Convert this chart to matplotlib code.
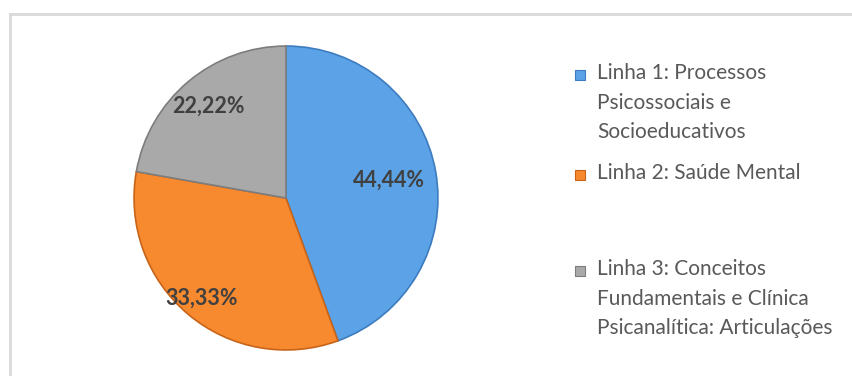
import numpy as np
import matplotlib.pyplot as plt
from matplotlib.patches import Rectangle
from matplotlib.lines import Line2D

plt.rcParams['font.family'] = ['Lato', 'DejaVu Sans']

# distribution of research lines
categories = ["Linha 1: Processos\nPsicossociais e\nSocioeducativos",
              "Linha 2: Saúde Mental",
              "Linha 3: Conceitos\nFundamentais e Clínica\nPsicanalítica: Articulações"]
shares = [44.44, 33.33, 22.22]
pct_labels = ["44,44%", "33,33%", "22,22%"]

colors = ["#5ba3e6", "#f7892f", "#a9a9a9"]
edges = ["#3d7cbf", "#c86418", "#7d7d7d"]
label_r = [0.69, 0.86, 0.79]

W, H = 853, 376
fig = plt.figure(figsize=(W / 100, H / 100), dpi=100)
fig.patch.set_facecolor("white")

# chart frame (top and left lines only)
fig.add_artist(Line2D([10 / W, 1], [1 - 14 / H, 1 - 14 / H], color="#d9d9d9", lw=2))
fig.add_artist(Line2D([10 / W, 10 / W], [0, 1 - 14 / H], color="#d9d9d9", lw=2))

cx, cy, r = 286, 198, 155
ax = fig.add_axes([(cx - r) / W, (H - cy - r) / H, 2 * r / W, 2 * r / H])
wedges, _ = ax.pie(shares, colors=colors, startangle=90, counterclock=False,
                   radius=1.0, wedgeprops=dict(linewidth=1.2))
for w, ec in zip(wedges, edges):
    w.set_edgecolor(ec)
ax.set_xlim(-1.02, 1.02)
ax.set_ylim(-1.02, 1.02)

for w, txt, lr in zip(wedges, pct_labels, label_r):
    ang = np.deg2rad((w.theta1 + w.theta2) / 2)
    ax.text(lr * np.cos(ang), lr * np.sin(ang), txt, ha="center", va="center",
            fontsize=15.5, fontweight="bold", color="#404040")

# legend
leg_x = 597
leg_tops = [63, 163, 259]
for lab, col, ec, top in zip(categories, colors, edges, leg_tops):
    fig.add_artist(Rectangle(((leg_x - 22) / W, 1 - (top + 17) / H), 10 / W, 10 / H,
                             facecolor=col, edgecolor=ec, lw=0.8,
                             transform=fig.transFigure))
    fig.text(leg_x / W, 1 - top / H, lab, ha="left", va="top", fontsize=15,
             color="#595959", linespacing=1.6)

fig.savefig("out.png", dpi=100)
